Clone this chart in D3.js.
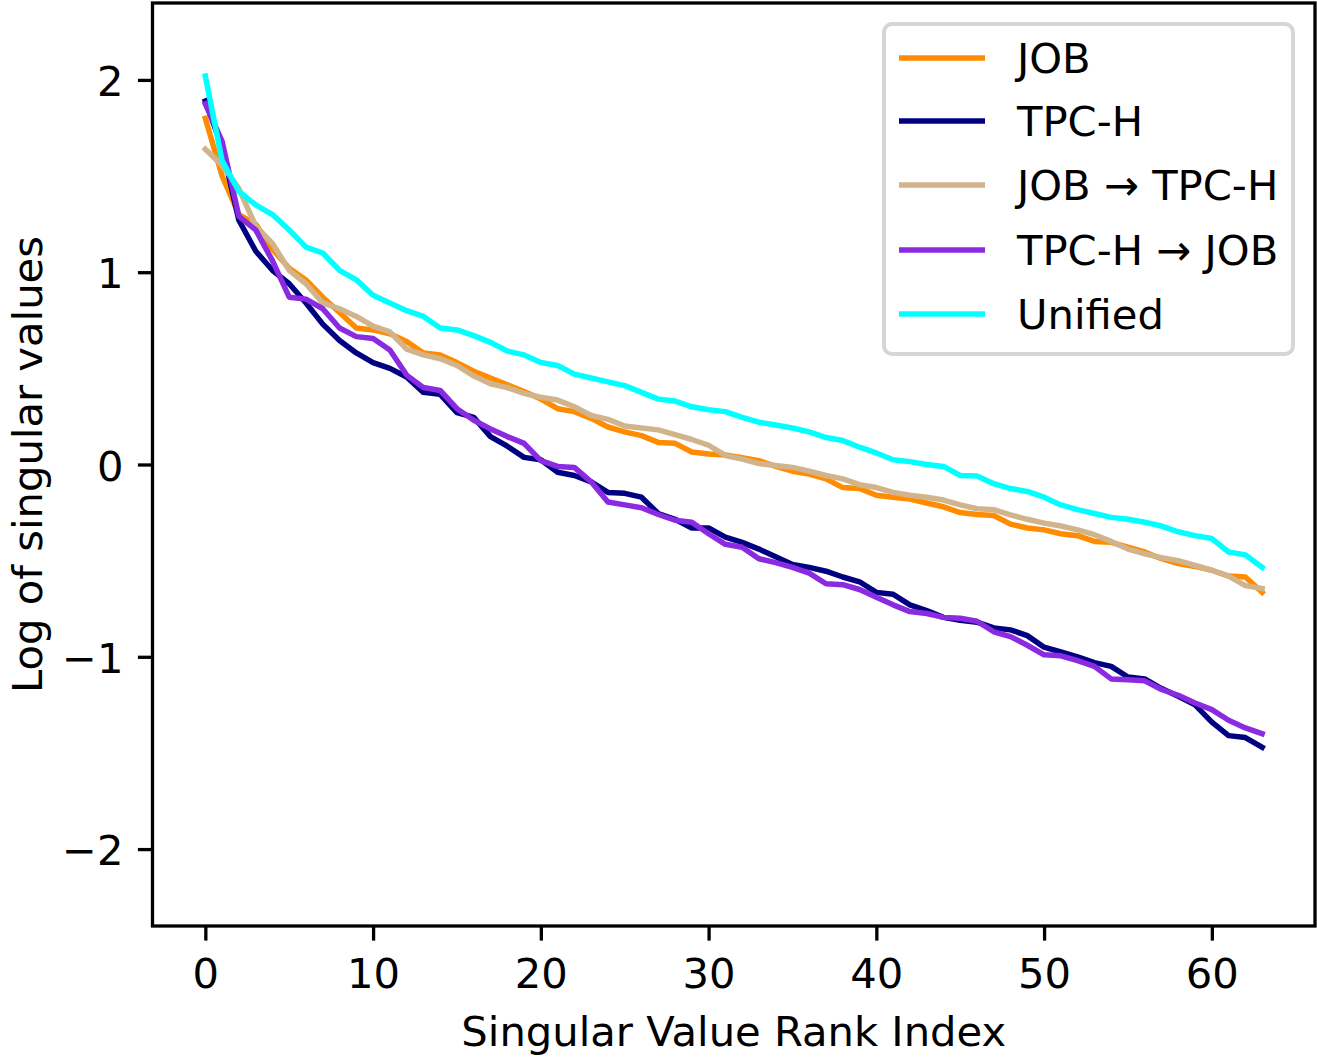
<!DOCTYPE html>
<html>
<head>
<meta charset="utf-8">
<script src="https://cdn.jsdelivr.net/npm/d3@7"></script>
<style>
  html, body { margin: 0; padding: 0; background: #fff; }
  svg { display: block; }
  text { font-family: "DejaVu Sans", sans-serif; fill: #000; }
</style>
</head>
<body>
<script>
// ---- Data ----
const seriesNames = ["JOB", "TPC-H", "JOB \u2192 TPC-H", "TPC-H \u2192 JOB", "Unified"];
const seriesColors = ["#ff8c00", "#000080", "#d2b48c", "#8a2be2", "#00ffff"];

const jobValues = [1.80,1.50,1.30,1.25,1.12,1.02,0.96,0.87,0.79,0.71,0.70,0.68,0.64,0.58,0.57,0.53,0.485,0.45,0.415,0.38,0.34,0.29,0.275,0.24,0.195,0.17,0.15,0.115,0.11,0.065,0.055,0.05,0.035,0.02,-0.01,-0.035,-0.05,-0.075,-0.12,-0.125,-0.16,-0.17,-0.18,-0.20,-0.22,-0.25,-0.26,-0.265,-0.31,-0.33,-0.34,-0.36,-0.37,-0.40,-0.405,-0.43,-0.455,-0.49,-0.515,-0.53,-0.55,-0.58,-0.585,-0.665];
const tpchValues = [1.89,1.65,1.27,1.11,1.01,0.94,0.84,0.73,0.645,0.58,0.53,0.50,0.455,0.375,0.365,0.27,0.245,0.145,0.095,0.037,0.025,-0.04,-0.057,-0.09,-0.145,-0.15,-0.17,-0.255,-0.285,-0.33,-0.33,-0.378,-0.405,-0.44,-0.48,-0.52,-0.535,-0.555,-0.585,-0.61,-0.665,-0.675,-0.73,-0.76,-0.795,-0.81,-0.82,-0.85,-0.86,-0.89,-0.95,-0.975,-1.00,-1.03,-1.05,-1.105,-1.115,-1.165,-1.205,-1.25,-1.34,-1.41,-1.42,-1.47];
const jobToTpchValues = [1.64,1.555,1.435,1.24,1.15,1.01,0.94,0.84,0.81,0.77,0.72,0.69,0.60,0.57,0.55,0.515,0.46,0.42,0.40,0.37,0.35,0.335,0.30,0.255,0.235,0.20,0.19,0.18,0.155,0.13,0.10,0.047,0.028,0.005,-0.005,-0.015,-0.035,-0.057,-0.075,-0.105,-0.12,-0.145,-0.16,-0.17,-0.185,-0.21,-0.23,-0.235,-0.262,-0.285,-0.305,-0.32,-0.34,-0.365,-0.40,-0.44,-0.465,-0.485,-0.50,-0.525,-0.55,-0.58,-0.63,-0.645];
const tpchToJobValues = [1.875,1.68,1.29,1.22,1.06,0.87,0.86,0.81,0.71,0.665,0.655,0.595,0.465,0.40,0.385,0.29,0.23,0.185,0.145,0.11,0.02,-0.01,-0.015,-0.09,-0.195,-0.21,-0.225,-0.26,-0.29,-0.30,-0.36,-0.415,-0.43,-0.49,-0.51,-0.535,-0.565,-0.62,-0.625,-0.65,-0.69,-0.73,-0.765,-0.775,-0.795,-0.80,-0.815,-0.87,-0.895,-0.94,-0.99,-0.995,-1.02,-1.05,-1.115,-1.12,-1.125,-1.17,-1.20,-1.24,-1.275,-1.33,-1.37,-1.40];
const unifiedValues = [2.02,1.58,1.42,1.35,1.30,1.22,1.13,1.10,1.01,0.96,0.88,0.84,0.80,0.77,0.71,0.70,0.67,0.635,0.59,0.57,0.53,0.515,0.47,0.45,0.43,0.41,0.375,0.34,0.33,0.30,0.285,0.275,0.245,0.22,0.205,0.19,0.17,0.14,0.125,0.09,0.06,0.025,0.015,0.0,-0.01,-0.057,-0.06,-0.10,-0.125,-0.14,-0.17,-0.21,-0.235,-0.255,-0.275,-0.285,-0.30,-0.32,-0.35,-0.37,-0.385,-0.455,-0.47,-0.535];

const xTicks = [0, 10, 20, 30, 40, 50, 60];
const yTicks = [-2, -1, 0, 1, 2];
const xLabel = "Singular Value Rank Index";
const yLabel = "Log of singular values";

const allSeries = [jobValues, tpchValues, jobToTpchValues, tpchToJobValues, unifiedValues];

// ---- Layout ----
const W = 1317, H = 1059;
const plotLeft = 152.5, plotRight = 1315, plotTop = 3, plotBottom = 926;
const FS = 41.7;

const svg = d3.select("body").append("svg").attr("width", W).attr("height", H);
svg.append("rect").attr("width", W).attr("height", H).attr("fill", "#fff");

const x = d3.scaleLinear().domain([-3.15, 66.15]).range([plotLeft, plotRight]);
const y = d3.scaleLinear().domain([-2.4, 2.4]).range([plotBottom, plotTop]);

// Lines
const line = d3.line().x((d, i) => x(i)).y(d => y(d));
const plot = svg.append("g");
allSeries.forEach((vals, k) => {
  plot.append("path")
    .datum(vals)
    .attr("d", line)
    .attr("fill", "none")
    .attr("stroke", seriesColors[k])
    .attr("stroke-width", 5.5)
    .attr("stroke-linejoin", "round")
    .attr("stroke-linecap", "square");
});

// Axes
const xAxis = d3.axisBottom(x).tickValues(xTicks).tickSize(14.6).tickPadding(0).tickFormat(d3.format("d"));
const yAxis = d3.axisLeft(y).tickValues(yTicks).tickSize(14.6).tickPadding(0)
  .tickFormat(d => d < 0 ? "\u2212" + Math.abs(d) : String(d));

const gx = svg.append("g").attr("transform", `translate(0,${plotBottom})`).call(xAxis);
gx.select(".domain").remove();
gx.selectAll(".tick line").attr("stroke", "#000").attr("stroke-width", 3.3);
gx.selectAll(".tick text")
  .attr("font-family", "DejaVu Sans").attr("font-size", FS).attr("fill", "#000")
  .attr("dy", null).attr("y", 62);

const gy = svg.append("g").attr("transform", `translate(${plotLeft},0)`).call(yAxis);
gy.select(".domain").remove();
gy.selectAll(".tick line").attr("stroke", "#000").attr("stroke-width", 3.3);
gy.selectAll(".tick text")
  .attr("font-family", "DejaVu Sans").attr("font-size", FS).attr("fill", "#000")
  .attr("dy", null).attr("x", -29).attr("y", 15.5);

// Spines
svg.append("rect")
  .attr("x", plotLeft).attr("y", plotTop)
  .attr("width", plotRight - plotLeft).attr("height", plotBottom - plotTop)
  .attr("fill", "none").attr("stroke", "#000").attr("stroke-width", 3.3);

// Axis labels
svg.append("text")
  .attr("x", (plotLeft + plotRight) / 2).attr("y", 1046)
  .attr("text-anchor", "middle").attr("font-size", FS)
  .text(xLabel);
svg.append("text")
  .attr("transform", `translate(42,${(plotTop + plotBottom) / 2}) rotate(-90)`)
  .attr("text-anchor", "middle").attr("font-size", FS)
  .text(yLabel);

// Legend
const lg = svg.append("g");
lg.append("rect")
  .attr("x", 884).attr("y", 24).attr("width", 409).attr("height", 330)
  .attr("rx", 8).attr("ry", 8)
  .attr("fill", "rgba(255,255,255,0.8)")
  .attr("stroke", "#d6d6d6").attr("stroke-width", 4);
const rowY = [58, 121, 185, 250, 314];
seriesNames.forEach((name, k) => {
  lg.append("line")
    .attr("x1", 899).attr("x2", 985)
    .attr("y1", rowY[k]).attr("y2", rowY[k])
    .attr("stroke", seriesColors[k]).attr("stroke-width", 5.5)
    .attr("stroke-linecap", "butt");
  lg.append("text")
    .attr("x", 1017).attr("y", rowY[k] + 15)
    .attr("font-size", FS)
    .text(name);
});
</script>
</body>
</html>
